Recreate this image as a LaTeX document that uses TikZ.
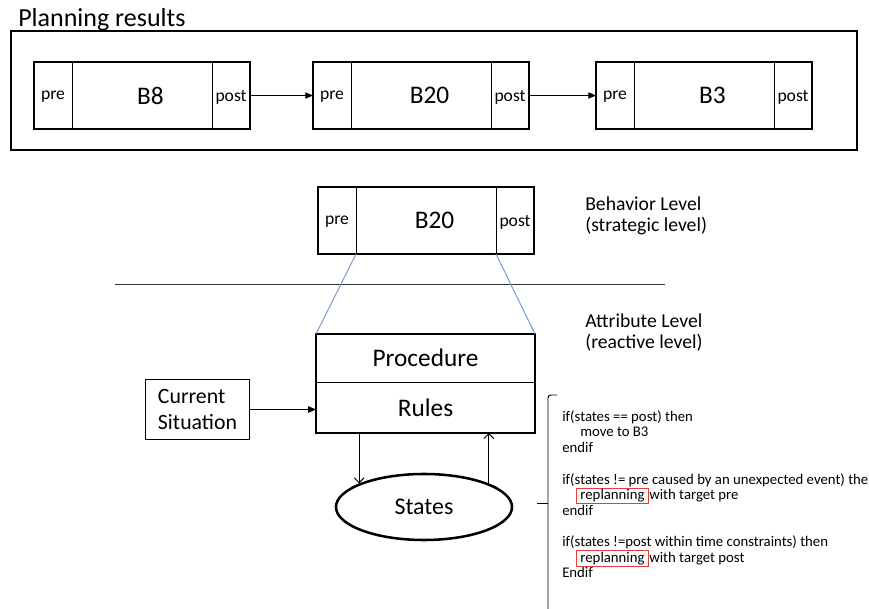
\documentclass[tikz,border=0pt]{standalone}
\usepackage{fontspec}
\setmainfont{Carlito}
\usetikzlibrary{positioning,arrows.meta,shapes.geometric}

\begin{document}
\begin{tikzpicture}[x=0.025cm, y=-0.025cm,
    slot/.style={draw=black, line width=0.7pt, minimum width=0.95cm,
        minimum height=1.675cm, inner sep=0pt, outer sep=0pt, text depth=0pt,
        font=\fontsize{12.5}{14}\selectfont},
    behav/.style={draw=black, line width=0.7pt, minimum width=3.5cm,
        minimum height=1.675cm, inner sep=0pt, outer sep=0pt,
        font=\fontsize{18}{20}\selectfont,
        execute at begin node={\hspace*{12pt}}},
    blockframe/.style={draw=black, line width=2pt},
    part/.style={draw=black, line width=0.7pt, minimum width=5.475cm,
        inner sep=0pt, outer sep=0pt, font=\fontsize{18}{20}\selectfont},
    link/.style={line width=0.7pt, -{Triangle[length=5.5pt,width=4.5pt]}},
    statearrow/.style={line width=0.7pt, -{Straight Barb[length=3.5pt,width=7pt]}},
    zoomline/.style={draw={rgb,255:red,120;green,155;blue,205}, line width=0.7pt},
    levelnote/.style={anchor=north west, inner sep=0pt, align=left,
        font=\fontsize{14}{14.8}\selectfont},
    code/.style={anchor=base west, inner sep=0pt,
        font=\fontsize{10.5}{11.2}\selectfont},
    redmark/.style={draw={rgb,255:red,230;green,60;blue,60}, line width=0.7pt,
        inner xsep=2.8pt, inner ysep=1pt}
]
    \useasboundingbox (0,0) rectangle (869,609);

    % planning results
    \node[anchor=base west, inner sep=0pt, font=\fontsize{18.5}{20}\selectfont]
        (title) at (18,26.5) {Planning results};
    \draw[blockframe] (11,31) rectangle (857,150);

    \node[slot] (b8pre) at (53,95.5) {pre};
    \node[behav, right=0pt of b8pre] (b8) {B8};
    \node[slot, right=0pt of b8] (b8post) {post};
    \draw[blockframe] (b8pre.north west) rectangle (b8post.south east);

    \node[slot] (b20pre) at (332,95.5) {pre};
    \node[behav, right=0pt of b20pre] (b20) {B20};
    \node[slot, right=0pt of b20] (b20post) {post};
    \draw[blockframe] (b20pre.north west) rectangle (b20post.south east);

    \node[slot] (b3pre) at (615,95.5) {pre};
    \node[behav, right=0pt of b3pre] (b3) {B3};
    \node[slot, right=0pt of b3] (b3post) {post};
    \draw[blockframe] (b3pre.north west) rectangle (b3post.south east);

    \draw[link] (b8post.east) -- (b20pre.west);
    \draw[link] (b20post.east) -- (b3pre.west);

    % behavior level
    \node[slot] (curpre) at (337,220.5) {pre};
    \node[behav, right=0pt of curpre] (cur) {B20};
    \node[slot, right=0pt of cur] (curpost) {post};
    \draw[blockframe] (curpre.north west) rectangle (curpost.south east);

    \node[levelnote] (behavnote) at (585,197) {Behavior Level\\(strategic level)};
    \draw[line width=0.7pt, black!80] (115,284) -- (665,284);
    \node[levelnote] (attrnote) at (585,314) {Attribute Level\\(reactive level)};

    % attribute level
    \node[part, minimum height=1.2cm, text depth=0pt] (proc) at (425.5,358) {Procedure};
    \node[part, minimum height=1.275cm, below=0pt of proc] (rules) {Rules};
    \draw[blockframe] (proc.north west) rectangle (rules.south east);
    \draw[zoomline] (curpre.south east) -- (proc.north west);
    \draw[zoomline] (curpost.south west) -- (proc.north east);

    \node[draw=black, line width=0.7pt, minimum width=2.575cm, minimum height=1.475cm,
        inner sep=0pt, align=left, font=\fontsize{15.5}{19}\selectfont]
        (situ) at (197.5,409.5) {Current\\Situation};
    \draw[link] (situ.east) -- (situ.east -| rules.west);

    \node[ellipse, draw=black, line width=1.8pt, minimum width=4.4cm,
        minimum height=1.65cm, inner sep=0pt, font=\fontsize{17}{20}\selectfont]
        (states) at (424,507) {States};
    \draw[statearrow] (states.160 |- rules.south) -- (states.160);
    \draw[statearrow] (states.20) -- (states.20 |- rules.south);

    % rules
    \draw[line width=0.7pt, rounded corners=2pt] (557,395) -- (548,395) -- (548,612);
    \draw[line width=0.7pt] (537,503) -- (548,503);

    \node[code] (c1) at (562,421.7) {if(states == post) then};
    \node[code] (c2) at (580,437) {move to B3};
    \node[code] (c3) at (562,452.7) {endif};
    \node[code] (c4) at (562,484.3) {if(states != pre caused by an unexpected event) the};
    \node[code, redmark] (r1) at (576,500) {replanning};
    \node[code] (c5) at (r1.base east) {with target pre};
    \node[code] (c6) at (562,515.5) {endif};
    \node[code] (c7) at (562,546.7) {if(states !=post within time constraints) then};
    \node[code, redmark] (r2) at (576,562.3) {replanning};
    \node[code] (c8) at (r2.base east) {with target post};
    \node[code] (c9) at (562,577.7) {Endif};
\end{tikzpicture}
\end{document}
